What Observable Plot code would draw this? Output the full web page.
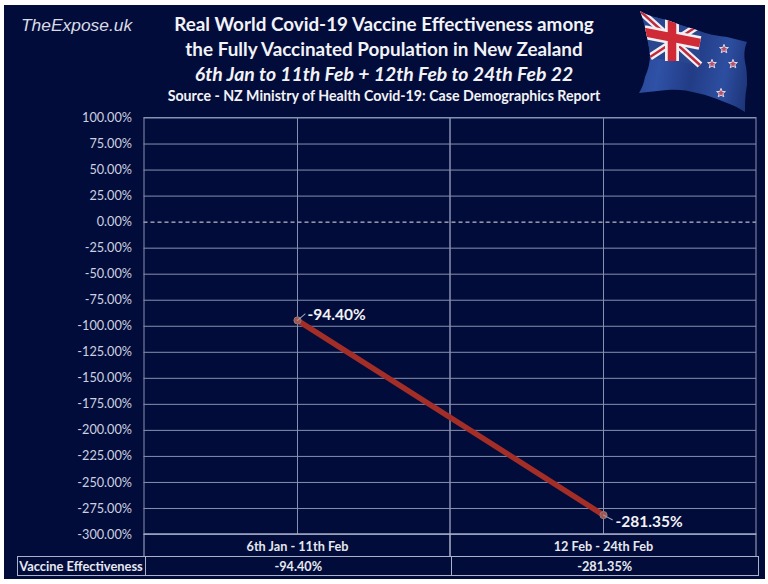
<!DOCTYPE html>
<html><head><meta charset="utf-8">
<script src="https://cdn.jsdelivr.net/npm/d3@7"></script>
<script src="https://cdn.jsdelivr.net/npm/@observablehq/plot@0.6"></script>
<style>
html,body{margin:0;padding:0;background:#fff;width:768px;height:584px;overflow:hidden}
#panel{position:absolute;left:4px;top:5px;width:761px;height:574px;background:#020c3a;overflow:hidden;font-family:Lato,sans-serif;color:#fff}
#brand{position:absolute;left:17px;top:10px;font:italic 17.4px "Liberation Sans",Arial,sans-serif;color:#d9dbe4}
#head div{position:absolute;left:-4px;width:768px;text-align:center;white-space:nowrap;font-weight:700;color:#f2f3f7}
#flag{position:absolute;left:626px;top:0}
#chart{position:absolute;left:0;top:100px}
#tbl{position:absolute;left:12.5px;top:551px;display:grid;grid-template-columns:127px 306.5px 306.5px;height:20px;box-sizing:border-box;border:1px solid #aab1c9;font:700 12.7px Lato,sans-serif;color:#e6e8f0}
#tbl div{text-align:center;line-height:19px;border-left:1px solid #aab1c9;box-sizing:border-box;white-space:nowrap}
#tbl div:first-child{border-left:none;font-size:12.9px}
</style></head><body>
<div id="panel">
<div id="brand">TheExpose.uk</div>
<div id="head">
<div style="top:7px;font-size:18.85px">Real World Covid-19 Vaccine Effectiveness among</div>
<div style="top:32px;font-size:18.85px">the Fully Vaccinated Population in New Zealand</div>
<div style="top:57px;font-size:19.4px;font-style:italic">6th Jan to 11th Feb + 12th Feb to 24th Feb 22</div>
<div style="top:81.5px;font-size:14.2px">Source - NZ Ministry of Health Covid-19: Case Demographics Report</div>
</div>
<svg id="flag" width="130" height="112" viewBox="0 0 130 112">
<defs>
<linearGradient id="fold" x1="0" y1="0" x2="1" y2="0.15">
<stop offset="0" stop-color="#24408c"/><stop offset=".3" stop-color="#2f51a6"/><stop offset=".55" stop-color="#223c86"/><stop offset=".8" stop-color="#2d4ea0"/><stop offset="1" stop-color="#1d3478"/>
</linearGradient>
<clipPath id="flagClip"><path d="M10 6 C18 11 28 13 37 15 C47 19 57 22 67 25 C77 29 87 31 97 32 L117 37 C114 44 114 50 115 57 C117 65 117 72 117 80 C115 90 115 98 115 107 C109 103 103 100 97 98 C87 94 77 90 67 88 C57 85 47 84 37 85 C27 86 18 87 9 88 C12 83 14 78 15 72 C18 65 20 58 20 50 C19 41 17 32 15 23 C14 17 12 11 10 6 Z"/></clipPath>
</defs>
<g clip-path="url(#flagClip)">
<rect width="130" height="112" fill="url(#fold)"/>
<path d="M10 6 L70 26 L70 60 L18 52 Z" fill="#2a468f"/>
<path d="M10 6 L70 60 M66 22 L20 52" stroke="#f1eff1" stroke-width="7" fill="none"/>
<path d="M10 6 L70 60 M66 22 L20 52" stroke="#c02a3e" stroke-width="2.4" fill="none"/>
<path d="M42 14 L42 56 M14 27 L70 38" stroke="#f1eff1" stroke-width="14" fill="none"/>
<path d="M42 14 L42 56 M14 27 L70 38" stroke="#cf2a36" stroke-width="8.5" fill="none"/>
</g>
<g fill="#b4506c" stroke="#e6d6de" stroke-width="1">
<path d="M0 -4.6 L1.2 -1.5 L4.4 -1.5 L1.9 .6 L2.8 3.8 L0 2 L-2.8 3.8 L-1.9 .6 L-4.4 -1.5 L-1.2 -1.5 Z" transform="translate(94 44)"/>
<path d="M0 -4.6 L1.2 -1.5 L4.4 -1.5 L1.9 .6 L2.8 3.8 L0 2 L-2.8 3.8 L-1.9 .6 L-4.4 -1.5 L-1.2 -1.5 Z" transform="translate(82 59)"/>
<path d="M0 -4.6 L1.2 -1.5 L4.4 -1.5 L1.9 .6 L2.8 3.8 L0 2 L-2.8 3.8 L-1.9 .6 L-4.4 -1.5 L-1.2 -1.5 Z" transform="translate(103 59)"/>
<path d="M0 -4.6 L1.2 -1.5 L4.4 -1.5 L1.9 .6 L2.8 3.8 L0 2 L-2.8 3.8 L-1.9 .6 L-4.4 -1.5 L-1.2 -1.5 Z" transform="translate(91 88)"/>
</g></svg>
<div id="chart"></div>
<div id="tbl"></div>
</div>
<script>
const periods = ["6th Jan - 11th Feb", "12 Feb - 24th Feb"];
const effectiveness = [-94.40, -281.35];
const rowLabel = "Vaccine Effectiveness";
const yTicks = d3.range(-300, 101, 25);
const fmt = v => v.toFixed(2) + "%";
const rows = periods.map((p, i) => ({p, v: effectiveness[i]}));
const grid = "#8790ae";
const leader = {draw(c, l) {c.moveTo(0, 0); c.lineTo(0, -l);}};
const chart = Plot.plot({
  width: 761, height: 451.5,
  marginLeft: 139.5, marginRight: 9, marginTop: 12.5, marginBottom: 22.5,
  style: {background: "transparent", overflow: "visible", fontFamily: "Lato,sans-serif"},
  x: {type: "band", domain: periods, padding: 0, label: null},
  y: {domain: [-300, 100], label: null},
  marks: [
    Plot.ruleY(yTicks.filter(t => t !== 0), {stroke: grid, strokeWidth: 1, strokeOpacity: 1}),
    Plot.ruleY([0], {stroke: "#e4e6ef", strokeWidth: 1, strokeDasharray: "4 3"}),
    Plot.ruleX(periods, {stroke: grid, strokeWidth: 1}),
    Plot.barY(periods, {x: d => d, y1: -300, y2: 100, fill: "none", stroke: grid, strokeWidth: 1}),
    Plot.barY(periods, {x: d => d, y1: -300, y2: -321.6, fill: "none", stroke: "#aab1c9", strokeWidth: 1}),
    Plot.axisY({ticks: yTicks, tickFormat: fmt, tickSize: 0, tickPadding: 12, fontSize: 12.7, fill: "#cdd1e0"}),
    Plot.axisX({tickSize: 0, tickPadding: 7, fontSize: 12.7, fontWeight: 700, fill: "#e6e8f0"}),
    Plot.line(rows, {x: "p", y: "v", stroke: "#a32d27", strokeWidth: 5.5}),
    Plot.dot(rows, {x: "p", y: "v", r: 3.6, fill: "#a8534c", stroke: "#8a7a80", strokeWidth: 1}),
    Plot.vector(rows.slice(0, 1), {x: "p", y: "v", length: 10, rotate: 50, anchor: "start", stroke: "#9aa2bb", strokeWidth: 1, shape: leader}),
    Plot.vector(rows.slice(1), {x: "p", y: "v", length: 10, rotate: 118, anchor: "start", stroke: "#9aa2bb", strokeWidth: 1, shape: leader}),
    Plot.text(rows.slice(0, 1), {x: "p", y: "v", text: d => fmt(d.v), fill: "#f2f3f7", fontSize: 15.5, fontWeight: 700, textAnchor: "start", dx: 10, dy: -5}),
    Plot.text(rows.slice(1), {x: "p", y: "v", text: d => fmt(d.v), fill: "#f2f3f7", fontSize: 15.5, fontWeight: 700, textAnchor: "start", dx: 12, dy: 7}),
  ]
});
document.getElementById("chart").append(chart);
const tbl = document.getElementById("tbl");
[rowLabel, ...effectiveness.map(fmt)].forEach(t => {const e = document.createElement("div"); e.textContent = t; tbl.append(e);});
</script>
</body></html>
